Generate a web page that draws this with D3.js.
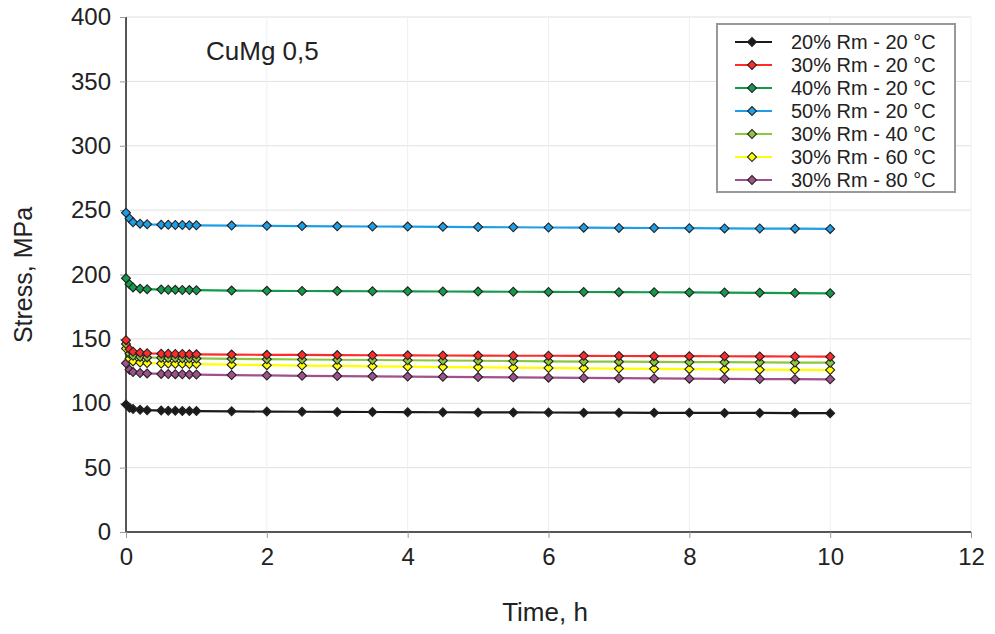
<!DOCTYPE html>
<html><head><meta charset="utf-8">
<script src="https://cdn.jsdelivr.net/npm/d3@7"></script>
<style>body{margin:0;background:#fff}svg{display:block;font-family:"Liberation Sans",Arial,sans-serif}</style>
</head><body><svg id="c" width="995" height="634"></svg>
<script>
const times = [0,0.05,0.1,0.2,0.3,0.5,0.6,0.7,0.8,0.9,1,1.5,2,2.5,3,3.5,4,4.5,5,5.5,6,6.5,7,7.5,8,8.5,9,9.5,10];
const seriesNames = ["20% Rm - 20 °C","30% Rm - 20 °C","40% Rm - 20 °C","50% Rm - 20 °C","30% Rm - 40 °C","30% Rm - 60 °C","30% Rm - 80 °C"];
const seriesColors = ["#1a1a1a","#ff2a2a","#139a4a","#1e9ee6","#8cc63f","#ffff00","#a0508e"];
const s20_20 = [99,96.5,95.5,95,94.6,94.3,94.2,94.1,94,93.9,93.9,93.7,93.5,93.4,93.3,93.2,93.1,93,92.9,92.9,92.8,92.7,92.7,92.6,92.6,92.5,92.5,92.4,92.3];
const s30_20 = [149,142,140,139.2,138.8,138.5,138.4,138.3,138.2,138.1,138,137.8,137.6,137.5,137.4,137.3,137.2,137.1,137,136.9,136.9,136.8,136.7,136.6,136.6,136.5,136.4,136.3,136.2];
const s40_20 = [197,192.5,190,189,188.6,188.3,188.2,188.1,188,187.9,187.8,187.5,187.3,187.2,187.1,187,186.9,186.8,186.7,186.6,186.5,186.4,186.3,186.2,186.1,186,185.8,185.6,185.4];
const s50_20 = [248,243.5,240.5,239.5,239,238.7,238.6,238.5,238.4,238.3,238.2,238,237.8,237.6,237.4,237.3,237.2,237,236.8,236.7,236.5,236.4,236.2,236.1,236,235.8,235.7,235.6,235.4];
const s30_40 = [146,138.5,136.8,136,135.6,135.3,135.2,135.1,135,134.9,134.8,134.5,134.2,134,133.8,133.6,133.4,133.2,133,132.8,132.6,132.4,132.3,132.1,132,131.9,131.8,131.6,131.5];
const s30_60 = [142.5,134.5,132.5,131.6,131.2,130.9,130.8,130.7,130.6,130.5,130.4,130,129.6,129.3,129,128.7,128.4,128.1,127.9,127.6,127.4,127.1,126.9,126.7,126.5,126.3,126.1,126,125.8];
const s30_80 = [131,126,124.2,123.5,123.2,122.8,122.7,122.6,122.5,122.4,122.3,121.9,121.6,121.3,121.1,120.9,120.7,120.5,120.3,120.1,119.9,119.7,119.5,119.3,119.1,119,118.8,118.7,118.6];
const seriesValues = [s20_20,s30_20,s40_20,s50_20,s30_40,s30_60,s30_80];
const xTicks = [0,2,4,6,8,10,12];
const yTicks = [0,50,100,150,200,250,300,350,400];
const title = "CuMg 0,5";
const xLabel = "Time, h", yLabel = "Stress, MPa";

const svg = d3.select("#c");
const x = d3.scaleLinear().domain([0,12]).range([126,971]);
const y = d3.scaleLinear().domain([0,400]).range([532,17]);

// grid
svg.append("g").selectAll("line").data(yTicks.slice(1)).join("line")
  .attr("x1",126).attr("x2",971).attr("y1",d=>y(d)).attr("y2",d=>y(d))
  .attr("stroke","#e0e0e0").attr("stroke-width",1);
svg.append("g").selectAll("line").data(xTicks.slice(1)).join("line")
  .attr("y1",17).attr("y2",532).attr("x1",d=>x(d)).attr("x2",d=>x(d))
  .attr("stroke","#efefef").attr("stroke-width",1);

// axes
const xAxis = svg.append("g").attr("transform","translate(0,532)")
  .call(d3.axisBottom(x).tickValues(xTicks).tickSize(6).tickPadding(10));
const yAxis = svg.append("g").attr("transform","translate(126,0)")
  .call(d3.axisLeft(y).tickValues(yTicks).tickSize(6).tickPadding(9));
[xAxis,yAxis].forEach(a=>{
  a.select(".domain").attr("stroke","#555").attr("stroke-width",2);
  a.selectAll(".tick line").attr("stroke","#999").attr("stroke-width",1);
  a.selectAll(".tick text").attr("font-size",24).attr("fill","#222").attr("font-family","Liberation Sans, Arial, sans-serif");
});
xAxis.select(".domain").attr("d","M126,0H971");
yAxis.select(".domain").attr("d","M0,17V532");

svg.append("text").attr("x",545).attr("y",621).attr("text-anchor","middle")
  .attr("font-size",26).attr("fill","#222").text(xLabel);
svg.append("text").attr("transform","translate(32,275) rotate(-90)").attr("text-anchor","middle")
  .attr("font-size",25).attr("fill","#222").text(yLabel);
svg.append("text").attr("x",206).attr("y",60).attr("font-size",26).attr("fill","#222").text(title);

const line = d3.line().x((d,i)=>x(times[i])).y(d=>y(d));
const diamond = d3.symbol().type(d3.symbolSquare).size(40);

const order = [6,5,4,1,0,2,3];
order.forEach(k=>{
  const g = svg.append("g");
  g.append("path").datum(seriesValues[k]).attr("d",line).attr("fill","none")
    .attr("stroke",seriesColors[k]).attr("stroke-width",2.2);
  g.selectAll("path.m").data(seriesValues[k]).join("path").attr("class","m")
    .attr("d",diamond).attr("transform",(d,i)=>`translate(${x(times[i])},${y(d)}) rotate(45)`)
    .attr("fill",seriesColors[k]).attr("stroke","#222").attr("stroke-width",1.1);
});

// legend
const lg = svg.append("g");
lg.append("rect").attr("x",717).attr("y",24).attr("width",238).attr("height",168)
  .attr("fill","#fff").attr("stroke","#999").attr("stroke-width",2);
seriesNames.forEach((n,i)=>{
  const yy = 42 + i*23;
  lg.append("line").attr("x1",735).attr("x2",772).attr("y1",yy).attr("y2",yy)
    .attr("stroke",seriesColors[i]).attr("stroke-width",2.2);
  lg.append("path").attr("d",diamond).attr("transform",`translate(752,${yy}) rotate(45)`)
    .attr("fill",seriesColors[i]).attr("stroke","#222").attr("stroke-width",1.1);
  lg.append("text").attr("x",791).attr("y",yy+7).attr("font-size",20).attr("fill","#222").text(n);
});
</script></body></html>
